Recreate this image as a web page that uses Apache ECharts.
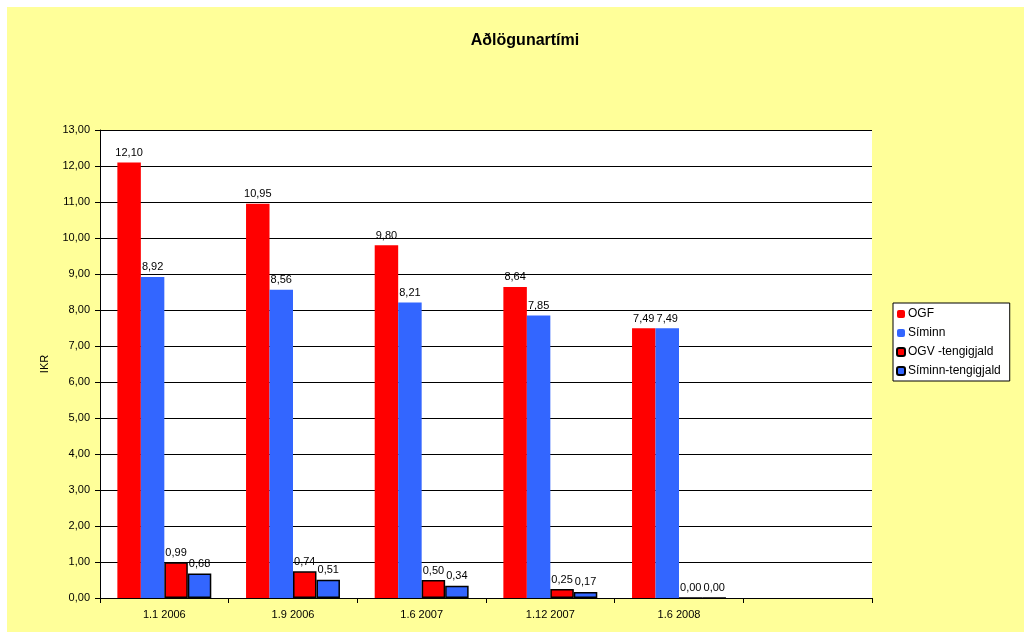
<!DOCTYPE html>
<html>
<head>
<meta charset="utf-8">
<script src="https://cdn.jsdelivr.net/npm/echarts@6/dist/echarts.min.js"></script>
<style>
html,body{margin:0;padding:0;background:#fff;}
#c{position:absolute;left:7px;top:7px;width:1017px;height:625px;}
</style>
</head>
<body>
<div id="c"></div>
<script>
const categories = ['1.1 2006', '1.9 2006', '1.6 2007', '1.12 2007', '1.6 2008', ''];
const ogf = [12.10, 10.95, 9.80, 8.64, 7.49];
const siminn = [8.92, 8.56, 8.21, 7.85, 7.49];
const ogvTengigjald = [0.99, 0.74, 0.50, 0.25, 0.00];
const siminnTengigjald = [0.68, 0.51, 0.34, 0.17, 0.00];

const FONT = '"Liberation Sans", Arial, sans-serif';
const fmt = v => v.toFixed(2).replace('.', ',');
const lbl = {show: true, position: 'top', distance: 4, color: '#000', fontSize: 11, fontFamily: FONT,
  formatter: p => fmt(p.value)};

const chart = echarts.init(document.getElementById('c'));
chart.setOption({
  backgroundColor: '#FFFF99',
  animation: false,
  title: {text: 'Aðlögunartími', left: 513, top: 21, textAlign: 'center',
    textStyle: {fontSize: 16, fontWeight: 'bold', color: '#000', fontFamily: FONT}},
  legend: {
    orient: 'vertical', left: 886, top: 296,
    backgroundColor: '#fff', borderColor: '#000', borderWidth: 1,
    padding: [5, 9, 4, 3], itemWidth: 8, itemHeight: 8, itemGap: 7,
    textStyle: {fontSize: 12, fontFamily: FONT, color: '#000', padding: [0, 0, 0, -2]},
    data: ['OGF', 'Síminn', 'OGV -tengigjald', 'Síminn-tengigjald']
  },
  grid: {left: 93, top: 123, width: 772, height: 468, containLabel: false,
    show: true, backgroundColor: '#fff', borderWidth: 0},
  xAxis: {
    type: 'category', data: categories,
    axisLine: {lineStyle: {color: '#000', width: 1}},
    axisTick: {show: true, alignWithLabel: false, length: 5, lineStyle: {color: '#000'}},
    axisLabel: {color: '#000', fontSize: 11, fontFamily: FONT, margin: 11}
  },
  yAxis: {
    type: 'value', min: 0, max: 13, interval: 1,
    name: 'IKR', nameLocation: 'middle', nameGap: 50, nameRotate: 90,
    nameTextStyle: {color: '#000', fontSize: 11, fontFamily: FONT},
    axisLine: {show: true, lineStyle: {color: '#000', width: 1}},
    axisTick: {show: true, length: 5, lineStyle: {color: '#000'}},
    axisLabel: {color: '#000', fontSize: 11, fontFamily: FONT, margin: 10, formatter: v => fmt(v)},
    splitLine: {show: true, lineStyle: {color: '#000', width: 1}}
  },
  series: [
    {name: 'OGF', type: 'bar', data: ogf, barGap: '0%', barCategoryGap: '27%',
      itemStyle: {color: '#FF0000'}, label: lbl},
    {name: 'Síminn', type: 'bar', data: siminn,
      itemStyle: {color: '#3366FF'}, label: lbl},
    {name: 'OGV -tengigjald', type: 'bar', data: ogvTengigjald,
      itemStyle: {color: '#FF0000', borderColor: '#000', borderWidth: 1.5}, label: lbl},
    {name: 'Síminn-tengigjald', type: 'bar', data: siminnTengigjald,
      itemStyle: {color: '#3366FF', borderColor: '#000', borderWidth: 1.5}, label: lbl}
  ]
});
</script>
</body>
</html>
